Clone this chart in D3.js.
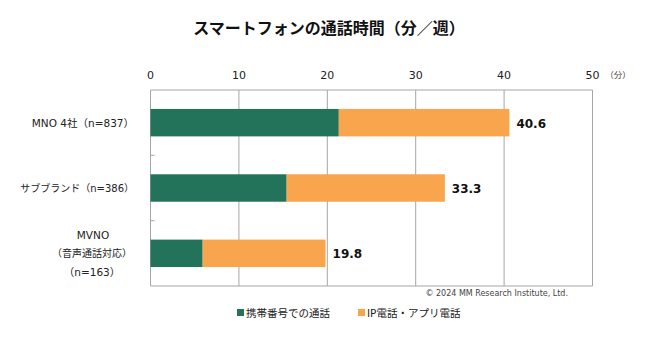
<!DOCTYPE html>
<html>
<head>
<meta charset="utf-8">
<script src="https://cdn.jsdelivr.net/npm/d3@7"></script>
<style>
  body { margin: 0; background: #fff; }
  svg { display: block; font-family: "DejaVu Sans", "Noto Sans CJK JP", sans-serif; }
</style>
</head>
<body>
<div id="chart"></div>
<script>
const categories = ['MNO 4社（n=837）', 'サブブランド（n=386）', 'MVNO\n（音声通話対応）\n（n=163）'];
const carrierCall = [21.3, 15.4, 5.9];
const ipCall      = [19.3, 17.9, 13.9];
const totals      = [40.6, 33.3, 19.8];
const xTicks      = [0, 10, 20, 30, 40, 50];
const seriesNames = ['携帯番号での通話', 'IP電話・アプリ電話'];

const COLORS = ['#22735a', '#f9a54e'];
const GRID   = '#a6a6a6';

const W = 665, H = 349;
const m = { left: 150.5, right: 72.5, top: 90, bottom: 63 };

const svg = d3.select('#chart').append('svg').attr('width', W).attr('height', H);

svg.append('text')
  .attr('x', 329).attr('y', 34)
  .attr('text-anchor', 'middle')
  .attr('font-size', 16).attr('font-weight', 'bold').attr('fill', '#111')
  .attr('font-family', '"Noto Sans CJK JP", sans-serif')
  .text('スマートフォンの通話時間（分／週）');

const x = d3.scaleLinear().domain([0, 50]).range([m.left, W - m.right]);
const y = d3.scaleBand().domain(d3.range(categories.length)).range([m.top, H - m.bottom]).paddingInner(0.58).paddingOuter(0.29);

// grid
svg.append('g').selectAll('line').data(xTicks).join('line')
  .attr('x1', d => x(d)).attr('x2', d => x(d))
  .attr('y1', m.top).attr('y2', H - m.bottom)
  .attr('stroke', GRID).attr('stroke-width', 1);

svg.append('line')
  .attr('x1', x(0)).attr('x2', x(50))
  .attr('y1', m.top).attr('y2', m.top)
  .attr('stroke', GRID);
svg.append('line')
  .attr('x1', x(0)).attr('x2', x(50))
  .attr('y1', H - m.bottom).attr('y2', H - m.bottom)
  .attr('stroke', GRID);

// small ticks between categories on left axis
svg.append('g').selectAll('line').data([1, 2]).join('line')
  .attr('x1', x(0)).attr('x2', x(0) + 4)
  .attr('y1', d => m.top + d * (H - m.top - m.bottom) / 3)
  .attr('y2', d => m.top + d * (H - m.top - m.bottom) / 3)
  .attr('stroke', GRID);

// top axis labels
svg.append('g').selectAll('text').data(xTicks).join('text')
  .attr('x', d => x(d)).attr('y', 79)
  .attr('text-anchor', 'middle')
  .attr('font-size', 11).attr('fill', '#222')
  .text(d => d);
svg.append('text')
  .attr('x', 618).attr('y', 78)
  .attr('text-anchor', 'middle')
  .attr('font-size', 8.5).attr('fill', '#444')
  .text('（分）');

// bars
const stacked = categories.map((c, i) => [
  { s: 0, x0: 0, x1: carrierCall[i], i },
  { s: 1, x0: carrierCall[i], x1: carrierCall[i] + ipCall[i], i }
]).flat();

svg.append('g').selectAll('rect').data(stacked).join('rect')
  .attr('x', d => x(d.x0))
  .attr('y', d => y(d.i))
  .attr('width', d => x(d.x1) - x(d.x0))
  .attr('height', y.bandwidth())
  .attr('fill', d => COLORS[d.s]);

// value labels
svg.append('g').selectAll('text').data(totals).join('text')
  .attr('x', (d, i) => x(carrierCall[i] + ipCall[i]) + 7)
  .attr('y', (d, i) => y(i) + y.bandwidth() / 2 + 5)
  .attr('font-size', 12).attr('font-weight', 'bold').attr('fill', '#111')
  .text(d => d.toFixed(1));

// category labels
categories.forEach((c, i) => {
  const lines = c.split('\n');
  const cy = y(i) + y.bandwidth() / 2;
  if (lines.length === 1) {
    svg.append('text')
      .attr('x', 134).attr('y', cy + 4)
      .attr('text-anchor', 'end')
      .attr('font-size', i === 1 ? 10 : 10.5).attr('fill', '#222')
      .text(c);
  } else {
    lines.forEach((l, j) => {
      svg.append('text')
        .attr('x', j === 0 ? 93 : 92).attr('y', cy + 4 + (j - 1) * 18.7)
        .attr('text-anchor', 'middle')
        .attr('font-size', j === 1 ? 10 : 10.5).attr('fill', '#222')
        .text(l);
    });
  }
});

// copyright
svg.append('text')
  .attr('x', 568).attr('y', 295.5)
  .attr('text-anchor', 'end')
  .attr('font-size', 8).attr('fill', '#444')
  .text('© 2024 MM Research Institute, Ltd.');

// legend
const legendX = [237, 358];
seriesNames.forEach((n, i) => {
  const g = svg.append('g').attr('transform', `translate(${legendX[i]},317)`);
  g.append('rect').attr('x', 0).attr('y', -8).attr('width', 7).attr('height', 7).attr('fill', COLORS[i]);
  g.append('text').attr('x', 9).attr('y', 0).attr('font-size', 10.5).attr('fill', '#222').text(n);
});
</script>
</body>
</html>
